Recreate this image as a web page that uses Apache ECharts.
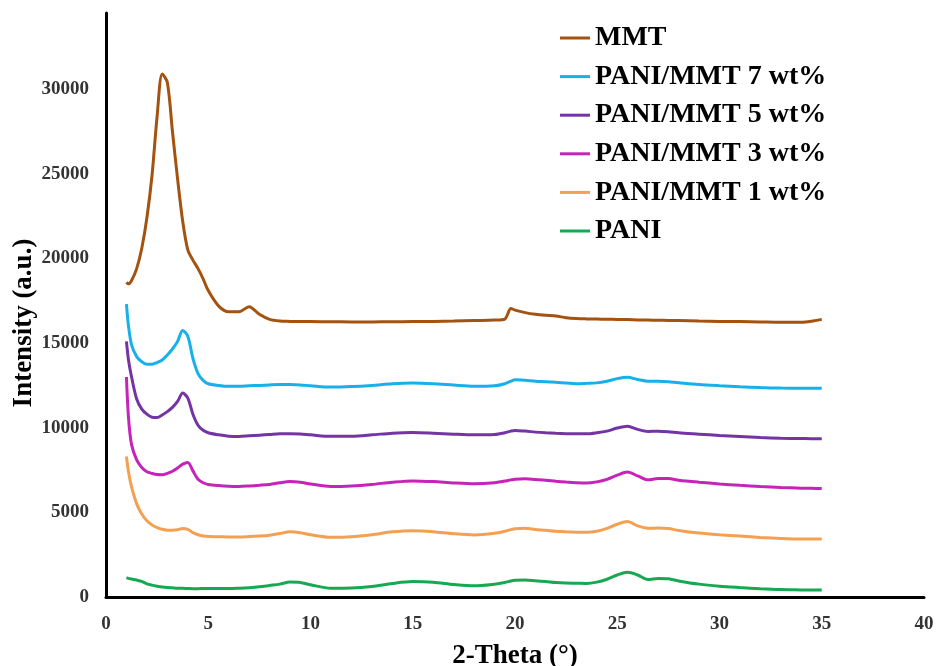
<!DOCTYPE html>
<html>
<head>
<meta charset="utf-8">
<script src="https://cdn.jsdelivr.net/npm/echarts@6/dist/echarts.min.js"></script>
<style>
  html, body { margin: 0; padding: 0; background: #fff; }
  #main { width: 938px; height: 666px; }
</style>
</head>
<body>
<div id="main"></div>
<script>
// 2-Theta sample positions (deg)
const theta = [1, 1.1, 1.25, 1.5, 1.75, 2, 2.25, 2.5, 2.75, 3, 3.25, 3.5, 3.75, 4, 4.25, 4.5, 4.75, 5, 5.5, 6,
  6.5, 7, 7.5, 8, 8.5, 9, 9.5, 10, 11, 12, 13, 14, 15, 16, 17, 18, 19, 19.5, 19.8, 20,
  20.5, 21, 21.5, 22, 22.5, 23, 23.5, 24, 24.5, 25, 25.5, 26, 26.5, 27, 27.5, 28, 29, 30, 31, 32,
  33, 34, 34.5, 35]

const mmt = [18600, 18500, 18700, 19400, 20600, 22400, 24900, 28400, 30900, 30400, 27500, 24700, 22200, 20500, 19900, 19400, 18800, 18100, 17200, 16850,
  16850, 17150, 16700, 16400, 16300, 16280, 16270, 16270, 16260, 16250, 16250, 16260, 16270, 16280, 16300, 16330, 16360, 16420, 17050, 16950,
  16800, 16700, 16640, 16600, 16500, 16450, 16430, 16420, 16410, 16400, 16390, 16370, 16360, 16350, 16340, 16330, 16300, 16280, 16270, 16250,
  16230, 16230, 16290, 16400]

const pani7 = [17300, 16000, 14900, 14200, 13900, 13750, 13750, 13850, 14000, 14300, 14650, 15100, 15750, 15400, 14100, 13200, 12800, 12600, 12500, 12450,
  12450, 12480, 12500, 12530, 12550, 12550, 12530, 12480, 12400, 12430, 12500, 12600, 12640, 12600, 12520, 12450, 12480, 12600, 12750, 12830,
  12800, 12750, 12720, 12680, 12640, 12600, 12620, 12650, 12750, 12900, 12980, 12850, 12750, 12750, 12720, 12650, 12550, 12480, 12420, 12370,
  12340, 12330, 12330, 12330]

const pani5 = [15100, 14000, 13000, 11700, 11100, 10800, 10620, 10600, 10750, 10950, 11200, 11550, 12050, 11750, 10800, 10150, 9850, 9700, 9580, 9500,
  9480, 9520, 9560, 9600, 9640, 9650, 9630, 9580, 9490, 9500, 9580, 9680, 9720, 9680, 9620, 9580, 9600, 9700, 9800, 9840,
  9800, 9740, 9700, 9670, 9650, 9640, 9640, 9700, 9800, 9980, 10080, 9900, 9780, 9790, 9760, 9700, 9620, 9540, 9480, 9420,
  9380, 9360, 9350, 9350]

const pani3 = [13000, 10600, 9000, 8100, 7650, 7400, 7300, 7230, 7220, 7300, 7430, 7620, 7850, 7950, 7450, 6950, 6750, 6650, 6580, 6540,
  6530, 6560, 6600, 6650, 6750, 6820, 6780, 6680, 6530, 6560, 6650, 6780, 6860, 6820, 6740, 6690, 6750, 6850, 6920, 6960,
  6980, 6940, 6900, 6840, 6790, 6750, 6730, 6800, 6950, 7200, 7380, 7150, 6920, 7000, 7000, 6900, 6780, 6680, 6600, 6530,
  6470, 6430, 6420, 6410]

const pani1 = [8300, 7400, 6500, 5500, 4900, 4500, 4250, 4100, 4000, 3950, 3950, 3980, 4050, 4000, 3800, 3680, 3600, 3570, 3560, 3550,
  3550, 3570, 3600, 3650, 3750, 3850, 3800, 3680, 3530, 3560, 3680, 3850, 3920, 3860, 3740, 3670, 3760, 3880, 3980, 4030,
  4060, 3990, 3940, 3880, 3850, 3830, 3820, 3880, 4050, 4300, 4460, 4200, 4060, 4070, 4040, 3930, 3780, 3680, 3600, 3520,
  3460, 3430, 3430, 3430]

const pani = [1140, 1100, 1060, 1000, 920, 780, 700, 640, 590, 560, 540, 520, 510, 500, 490, 490, 500, 500, 500, 500,
  520, 550, 600, 680, 760, 880, 860, 720, 520, 530, 620, 800, 910, 870, 740, 660, 760, 860, 950, 990,
  1010, 960, 910, 850, 820, 810, 800, 880, 1050, 1300, 1460, 1300, 1030, 1100, 1080, 950, 760, 640, 560, 490,
  440, 420, 410, 410]

const seriesNames = ['MMT', 'PANI/MMT 7 wt%', 'PANI/MMT 5 wt%', 'PANI/MMT 3 wt%', 'PANI/MMT 1 wt%', 'PANI']
const seriesColors = ['#A3520F', '#17B0EA', '#7434A4', '#C424B8', '#F5A050', '#17A852']
const seriesValues = [mmt, pani7, pani5, pani3, pani1, pani]

const font = "'Liberation Serif', 'Times New Roman', serif"

const chart = echarts.init(document.getElementById('main'))

chart.setOption({
  animation: false,
  backgroundColor: '#fff',
  grid: { left: 106, right: 14, top: 13, bottom: 69, outerBoundsMode: 'none' },
  legend: {
    orient: 'vertical',
    left: 560,
    top: 24,
    padding: 0,
    icon: 'rect',
    itemWidth: 30,
    itemHeight: 3,
    itemGap: 10.6,
    data: seriesNames,
    textStyle: { fontFamily: font, fontWeight: 'bold', fontSize: 28, lineHeight: 28, color: '#000' }
  },
  xAxis: {
    type: 'value',
    min: 0,
    max: 40,
    interval: 5,
    name: '2-Theta (°)',
    nameLocation: 'middle',
    nameGap: 46,
    nameTextStyle: { fontFamily: font, fontWeight: 'bold', fontSize: 27, color: '#000' },
    axisLine: { lineStyle: { color: '#000', width: 3 } },
    axisTick: { show: false },
    splitLine: { show: false },
    axisLabel: { margin: 18, fontFamily: font, fontWeight: 'bold', fontSize: 19, color: '#333' }
  },
  yAxis: {
    type: 'value',
    min: 0,
    max: 34500,
    interval: 5000,
    name: 'Intensity (a.u.)',
    nameLocation: 'middle',
    nameGap: 68,
    nameMoveOverlap: false,
    nameTextStyle: { fontFamily: font, fontWeight: 'bold', fontSize: 27, color: '#000', padding: [0, 36, 0, 0] },
    axisLine: { show: true, lineStyle: { color: '#000', width: 3 } },
    axisTick: { show: false },
    splitLine: { show: false },
    axisLabel: {
      margin: 17,
      fontFamily: font,
      fontWeight: 'bold',
      fontSize: 19,
      color: '#333',
      formatter: v => (v % 5000 === 0 ? String(v) : '')
    }
  },
  series: seriesNames.map((name, i) => ({
    name: name,
    type: 'line',
    showSymbol: false,
    smooth: 0.3,
    color: seriesColors[i],
    lineStyle: { width: 3, color: seriesColors[i] },
    data: theta.map((t, j) => [t, seriesValues[i][j]])
  }))
})
</script>
</body>
</html>
